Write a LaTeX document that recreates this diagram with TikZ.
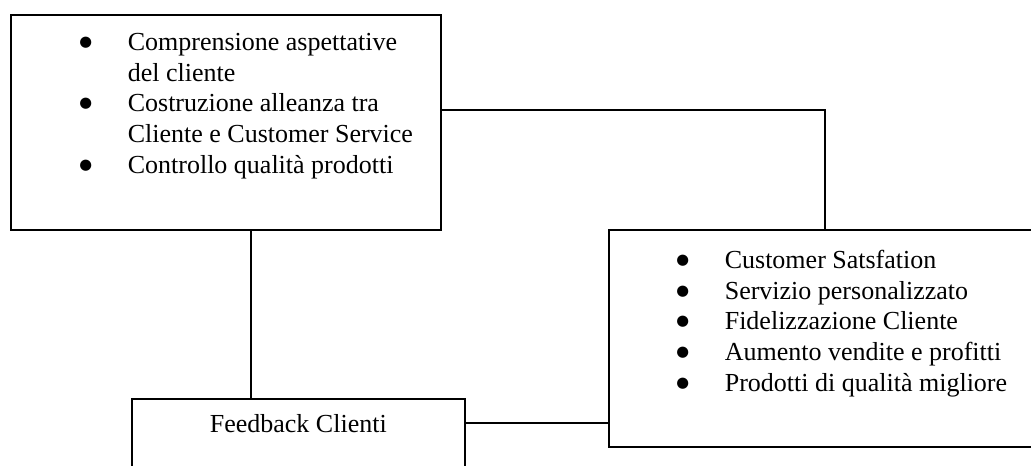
\documentclass[tikz,border=0pt]{standalone}
\usepackage{fontspec}
\setmainfont{Liberation Serif}
\newfontfamily\symfont{DejaVu Sans}
\usetikzlibrary{positioning,calc}

\newcommand{\blt}{\makebox[63pt]{\raisebox{3pt}{\fontsize{11}{13}\symfont ●}}}
\newcommand{\ind}{\hspace*{63pt}}

\begin{document}
\begin{tikzpicture}[x=0.75pt, y=-0.75pt, line width=1.2pt,
  font=\fontsize{19.5}{23}\selectfont,
  box/.style={draw, rectangle, inner sep=0pt, anchor=north west},
  list/.style={align=left, inner sep=0pt, anchor=north west}]
\useasboundingbox (0,0) rectangle (1031,465);
\clip (0,0) rectangle (1031,465);
% boxes
\node[box, minimum width=322.5pt, minimum height=161.25pt] (goals) at (10,14) {};
\node[box, minimum width=324pt, minimum height=162.75pt] (gains) at (608,229) {};
\node[box, minimum width=249.75pt, minimum height=60pt] (feedback) at (131,398) {};
% texts
\node[list] (goalstext) at (43,32.5) {\blt Comprensione aspettative\\
  \ind del cliente\\
  \blt Costruzione alleanza tra\\
  \ind Cliente e Customer Service\\
  \blt Controllo qualità prodotti};
\node[list] (gainstext) at (640,249.5) {\blt Customer Satsfation\\
  \blt Servizio personalizzato\\
  \blt Fidelizzazione Cliente\\
  \blt Aumento vendite e profitti\\
  \blt Prodotti di qualità migliore};
\node[anchor=base] (feedbacktext) at ($(feedback.north)+(0,34)$) {Feedback Clienti};
% links
\draw ($(goals.east)+(0,-12.5)$) -| (gains.north);
\draw ($(goals.south)+(25,0)$) coordinate (down) -- (down |- feedback.north);
\draw ($(feedback.east)+(0,-16)$) coordinate (across) -- (across -| gains.west);
\end{tikzpicture}
\end{document}
